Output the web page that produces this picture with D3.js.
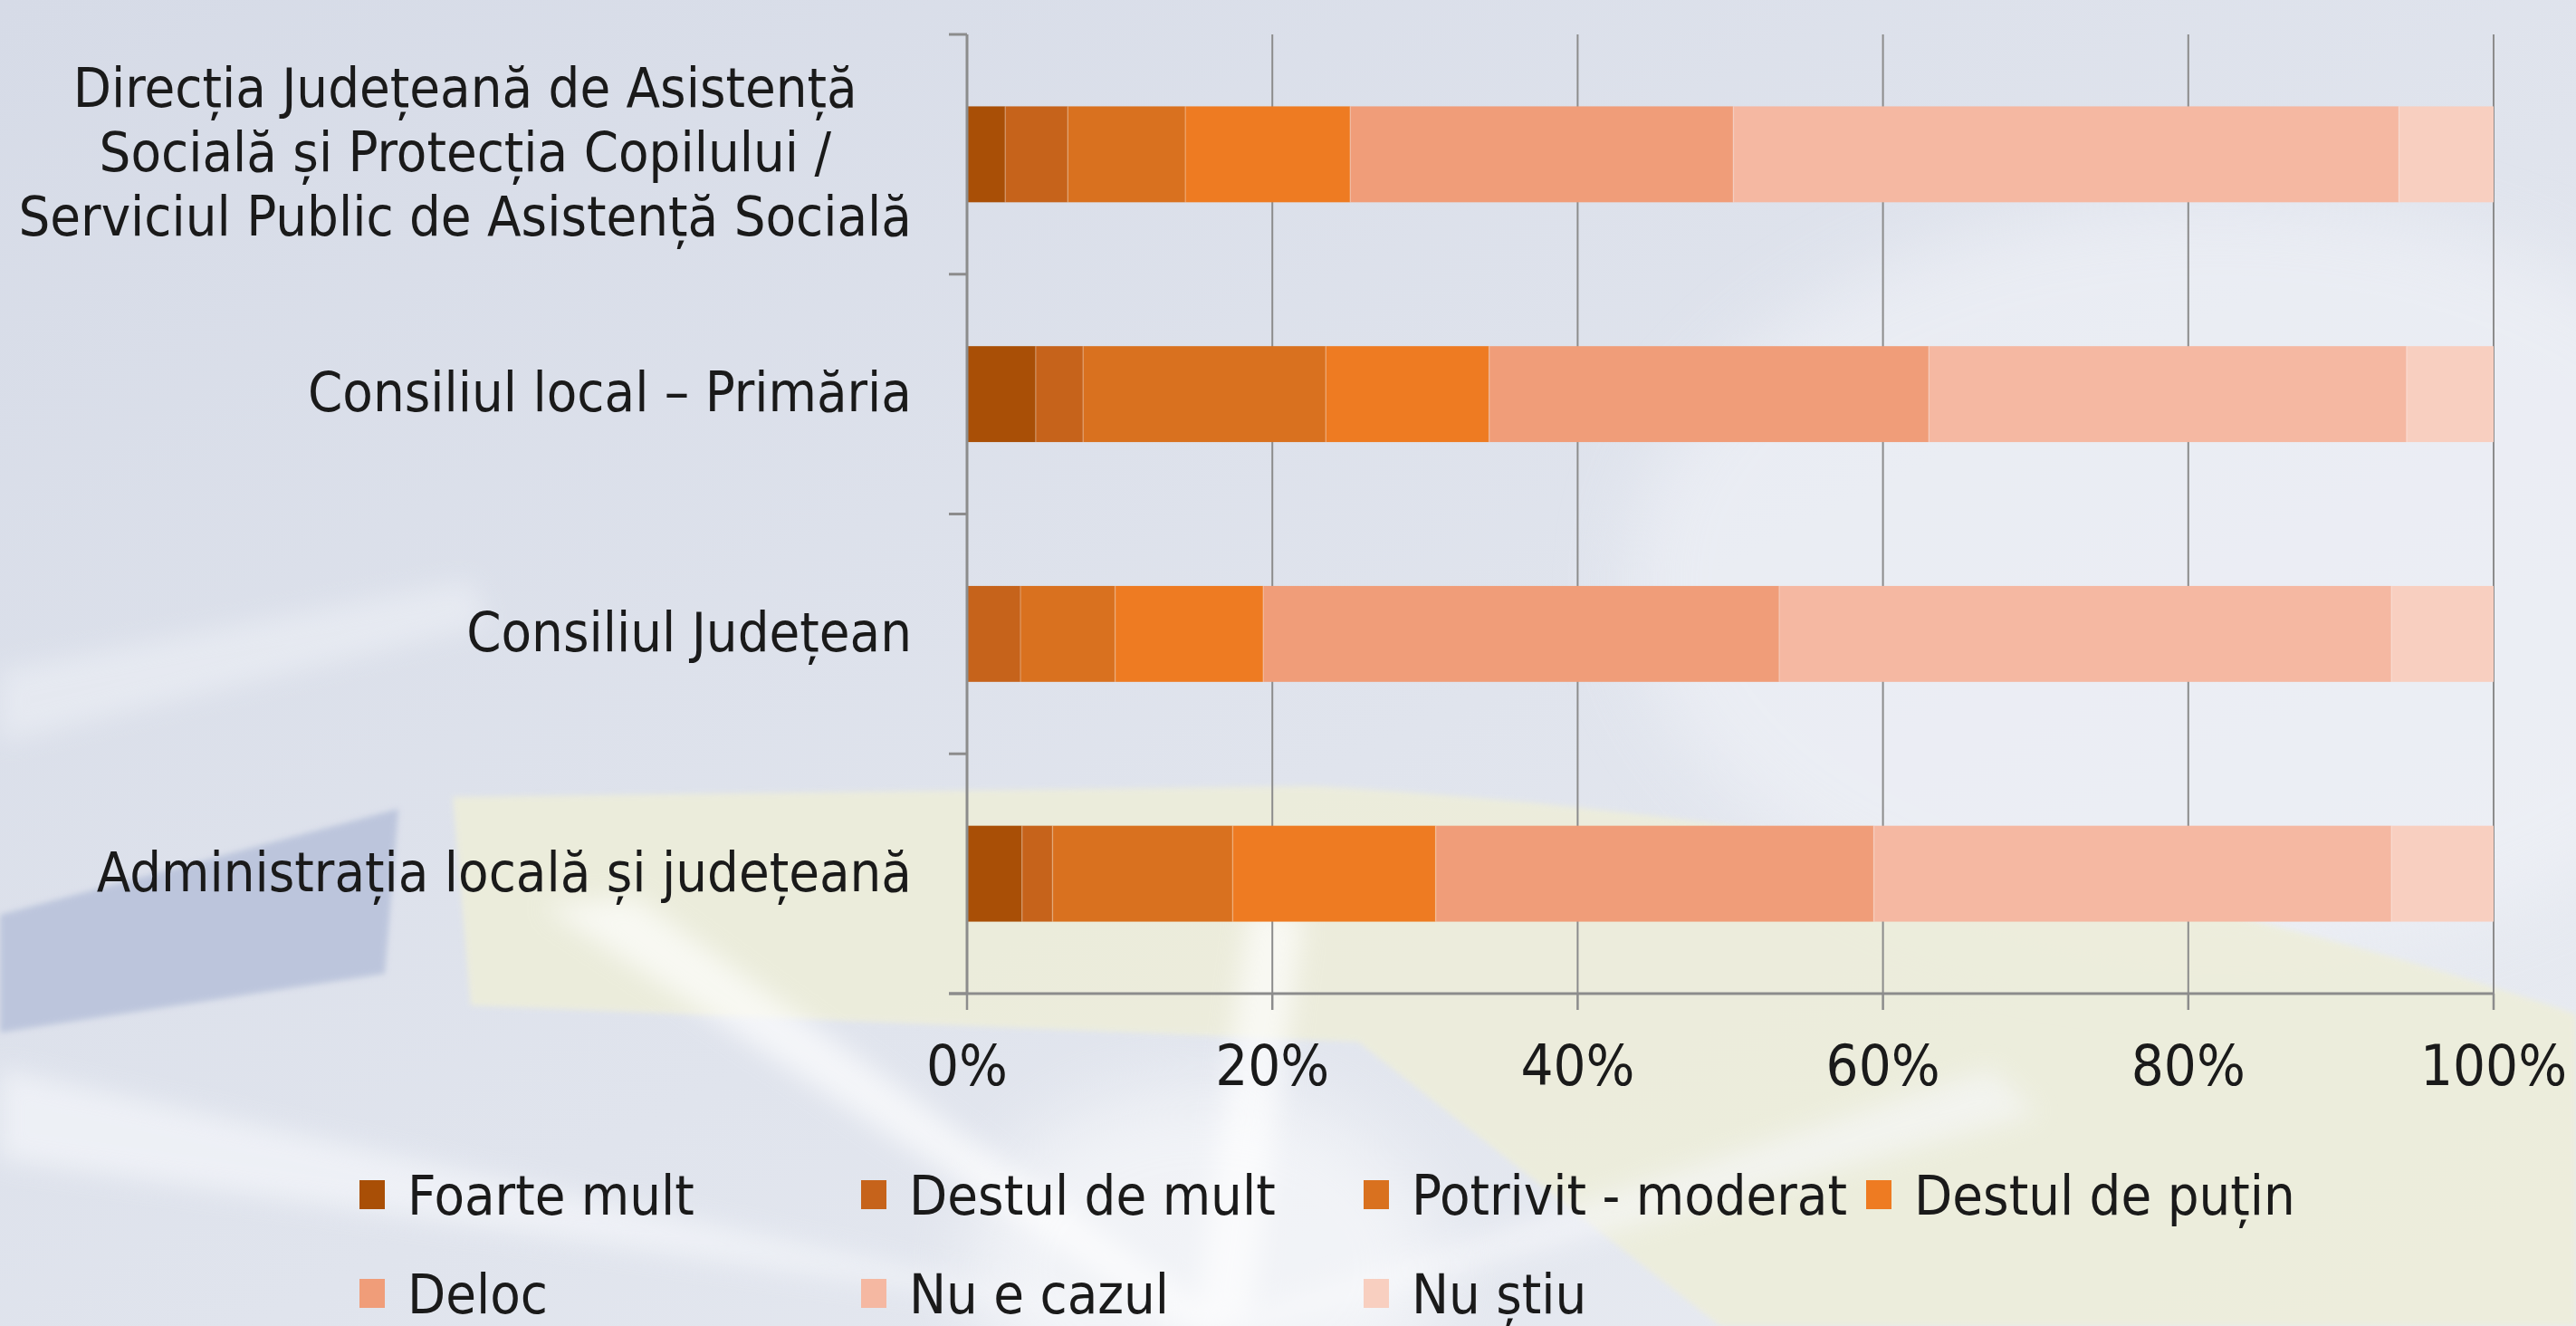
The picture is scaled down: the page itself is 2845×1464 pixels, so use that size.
<!DOCTYPE html>
<html>
<head>
<meta charset="utf-8">
<script src="https://cdn.jsdelivr.net/npm/d3@7"></script>
<style>
  html, body { margin: 0; padding: 0; background: #dde2ec; }
  svg { display: block; }
  text { font-family: "DejaVu Sans Condensed", "DejaVu Sans", sans-serif; font-stretch: condensed; fill: #1a1a1a; }
</style>
</head>
<body>
<svg id="chart" width="2845" height="1464"></svg>
<script>
// Institutions (top to bottom); each label is split into display lines
const categories = [
  "Direcția Județeană de Asistență Socială și Protecția Copilului / Serviciul Public de Asistență Socială",
  "Consiliul local – Primăria",
  "Consiliul Județean",
  "Administrația locală și județeană"
];
const categoryLines = [
  ["Direcția Județeană de Asistență", "Socială și Protecția Copilului /", "Serviciul Public de Asistență Socială"],
  ["Consiliul local – Primăria"],
  ["Consiliul Județean"],
  ["Administrația locală și județeană"]
];

// Answer levels, in stacking order
const seriesNames = ["Foarte mult", "Destul de mult", "Potrivit - moderat", "Destul de puțin", "Deloc", "Nu e cazul", "Nu știu"];
const seriesColors = ["#a94f06", "#c6631b", "#d9711f", "#ee7b22", "#f09d79", "#f5b8a2", "#f8cfc0"];

// Share of answers (%) per institution, one array per level
const foarteMult    = [2.5, 4.5, 0.0, 3.6];
const destulDeMult  = [4.1, 3.1, 3.5, 2.0];
const potrivit      = [7.7, 15.9, 6.2, 11.8];
const destulDePutin = [10.8, 10.7, 9.7, 13.3];
const deloc         = [25.1, 28.8, 33.8, 28.7];
const nuECazul      = [43.6, 31.3, 40.1, 33.9];
const nuStiu        = [6.2, 5.7, 6.7, 6.7];

const tickValues = [0, 20, 40, 60, 80, 100];
const tickLabels = ["0%", "20%", "40%", "60%", "80%", "100%"];

const seriesValues = [foarteMult, destulDeMult, potrivit, destulDePutin, deloc, nuECazul, nuStiu];
const rows = categories.map((c, i) => {
  const r = { category: c };
  seriesNames.forEach((s, k) => { r[s] = seriesValues[k][i]; });
  return r;
});

const svg = d3.select("#chart");
const W = 2845, H = 1464;

// ---------- soft decorative backdrop ----------
const defs = svg.append("defs");
const bg = defs.append("linearGradient").attr("id", "bgGrad")
  .attr("x1", "0").attr("y1", "0").attr("x2", "1").attr("y2", "1");
bg.append("stop").attr("offset", "0").attr("stop-color", "#d6dbe7");
bg.append("stop").attr("offset", "0.55").attr("stop-color", "#e0e4ed");
bg.append("stop").attr("offset", "1").attr("stop-color", "#e9ecf2");
defs.append("filter").attr("id", "blurBig").attr("x", "-20%").attr("y", "-20%").attr("width", "140%").attr("height", "140%")
  .append("feGaussianBlur").attr("stdDeviation", 40);
defs.append("filter").attr("id", "blurMid").attr("x", "-20%").attr("y", "-20%").attr("width", "140%").attr("height", "140%")
  .append("feGaussianBlur").attr("stdDeviation", 14);
defs.append("filter").attr("id", "blurSmall").attr("x", "-20%").attr("y", "-20%").attr("width", "140%").attr("height", "140%")
  .append("feGaussianBlur").attr("stdDeviation", 3);

const deco = svg.append("g").attr("class", "backdrop");
deco.append("rect").attr("width", W).attr("height", H).attr("fill", "url(#bgGrad)");
// bright haze on the right
deco.append("ellipse").attr("cx", 2450).attr("cy", 640).attr("rx", 650).attr("ry", 420)
  .attr("fill", "#f1f3f8").attr("opacity", 0.6).attr("filter", "url(#blurBig)");
// pale yellow sweep across the lower half
deco.append("path")
  .attr("d", "M500,880 L1450,868 C2000,900 2500,1000 2845,1120 L2845,1464 L1900,1464 L1500,1150 L520,1110 Z")
  .attr("fill", "#eeeed9").attr("opacity", 0.85).attr("filter", "url(#blurSmall)");
// blue slanted panel on the left
deco.append("path").attr("d", "M0,1010 L440,893 L425,1075 L0,1140 Z")
  .attr("fill", "#b7c1da").attr("opacity", 0.85).attr("filter", "url(#blurSmall)");
// light streaks
deco.append("path").attr("d", "M0,740 L520,640 L540,690 L0,820 Z")
  .attr("fill", "#f3f5f9").attr("opacity", 0.45).attr("filter", "url(#blurMid)");
deco.append("path").attr("d", "M1300,1464 L600,1000 L700,990 L1360,1464 Z")
  .attr("fill", "#ffffff").attr("opacity", 0.65).attr("filter", "url(#blurMid)");
deco.append("path").attr("d", "M1320,1464 L1380,1000 L1440,1010 L1380,1464 Z")
  .attr("fill", "#ffffff").attr("opacity", 0.65).attr("filter", "url(#blurMid)");
deco.append("path").attr("d", "M1300,1464 L0,1180 L0,1280 L1300,1464 Z")
  .attr("fill", "#f4f6fa").attr("opacity", 0.7).attr("filter", "url(#blurMid)");
deco.append("path").attr("d", "M1330,1464 L2200,1180 L2250,1230 L1400,1464 Z")
  .attr("fill", "#f7f8fb").attr("opacity", 0.6).attr("filter", "url(#blurMid)");
deco.append("ellipse").attr("cx", 1330).attr("cy", 1400).attr("rx", 260).attr("ry", 200)
  .attr("fill", "#ffffff").attr("opacity", 0.5).attr("filter", "url(#blurBig)");

// ---------- plot ----------
const plot = { left: 1068, right: 2754, top: 38, bottom: 1097 };

const x = d3.scaleLinear().domain([0, 100]).range([plot.left, plot.right]);
const y = d3.scaleBand().domain(categories).range([plot.top, plot.bottom])
  .paddingInner(0.6).paddingOuter(0.3);

const gridColor = "#8c8c8c";

// vertical gridlines
svg.append("g").selectAll("line").data(tickValues.filter(v => v > 0)).join("line")
  .attr("x1", d => x(d)).attr("x2", d => x(d))
  .attr("y1", plot.top).attr("y2", plot.bottom)
  .attr("stroke", gridColor).attr("stroke-width", 2);

// stacked bars
const stack = d3.stack().keys(seriesNames)(rows);
const color = d3.scaleOrdinal().domain(seriesNames).range(seriesColors);

svg.append("g").selectAll("g").data(stack).join("g")
  .attr("fill", d => color(d.key))
  .selectAll("rect").data(d => d).join("rect")
  .attr("x", d => x(d[0]))
  .attr("y", d => y(d.data.category))
  .attr("width", d => Math.max(0, x(d[1]) - x(d[0])))
  .attr("height", y.bandwidth());

// faint light seams between segments
svg.append("g").selectAll("g").data(stack.slice(0, -1)).join("g")
  .selectAll("line").data(d => d.filter(p => p[1] > p[0])).join("line")
  .attr("x1", d => x(d[1])).attr("x2", d => x(d[1]))
  .attr("y1", d => y(d.data.category)).attr("y2", d => y(d.data.category) + y.bandwidth())
  .attr("stroke", "#ffffff").attr("stroke-opacity", 0.25).attr("stroke-width", 1.5);

// category axis: line plus ticks at band boundaries
const yAxis = svg.append("g");
yAxis.append("line")
  .attr("x1", plot.left).attr("x2", plot.left)
  .attr("y1", plot.top).attr("y2", plot.bottom)
  .attr("stroke", gridColor).attr("stroke-width", 3);
const boundaries = d3.range(categories.length + 1).map(i => y.range()[0] + i * y.step());
yAxis.selectAll("line.tick").data(boundaries).join("line").attr("class", "tick")
  .attr("x1", plot.left - 20).attr("x2", plot.left)
  .attr("y1", d => d).attr("y2", d => d)
  .attr("stroke", gridColor).attr("stroke-width", 3);

// category labels: block right-aligned to the axis, lines centred within the block
const fontSize = 61;
const lineH = 71;
const labelRight = 1007;
const labels = svg.append("g").style("font-size", fontSize + "px");
categories.forEach((c, i) => {
  const lines = categoryLines[i];
  const cy = y(c) + y.bandwidth() / 2 - 3;
  const t = labels.append("text").attr("text-anchor", "middle");
  const spans = lines.map((ln, j) => t.append("tspan")
    .attr("y", cy + (j - (lines.length - 1) / 2) * lineH)
    .attr("dy", "0.36em").text(ln));
  const widest = d3.max(spans, s => s.node().getComputedTextLength());
  spans.forEach(s => s.attr("x", labelRight - widest / 2));
});

// value axis at the bottom
const xAxis = svg.append("g");
xAxis.append("line")
  .attr("x1", plot.left - 20).attr("x2", plot.right)
  .attr("y1", plot.bottom).attr("y2", plot.bottom)
  .attr("stroke", gridColor).attr("stroke-width", 3);
xAxis.selectAll("line.tick").data(tickValues).join("line").attr("class", "tick")
  .attr("x1", d => x(d)).attr("x2", d => x(d))
  .attr("y1", plot.bottom).attr("y2", plot.bottom + 18)
  .attr("stroke", gridColor).attr("stroke-width", 2.5);
xAxis.selectAll("text").data(tickValues).join("text")
  .attr("x", d => x(d)).attr("y", 1175).attr("dy", "0.36em")
  .attr("text-anchor", "middle").style("font-size", "63px")
  .text((d, i) => tickLabels[i]);

// legend: four items on the first row, three on the second
const legendCols = [397, 951, 1506, 2061];
const legendRows = [1319, 1428];
const legend = svg.append("g").style("font-size", fontSize + "px");
seriesNames.forEach((s, i) => {
  const lx = legendCols[i % 4];
  const ly = legendRows[Math.floor(i / 4)];
  legend.append("rect").attr("x", lx).attr("y", ly - 16).attr("width", 28).attr("height", 32)
    .attr("fill", color(s));
  legend.append("text").attr("x", lx + 53).attr("y", ly).attr("dy", "0.36em").text(s);
});
</script>
</body>
</html>
